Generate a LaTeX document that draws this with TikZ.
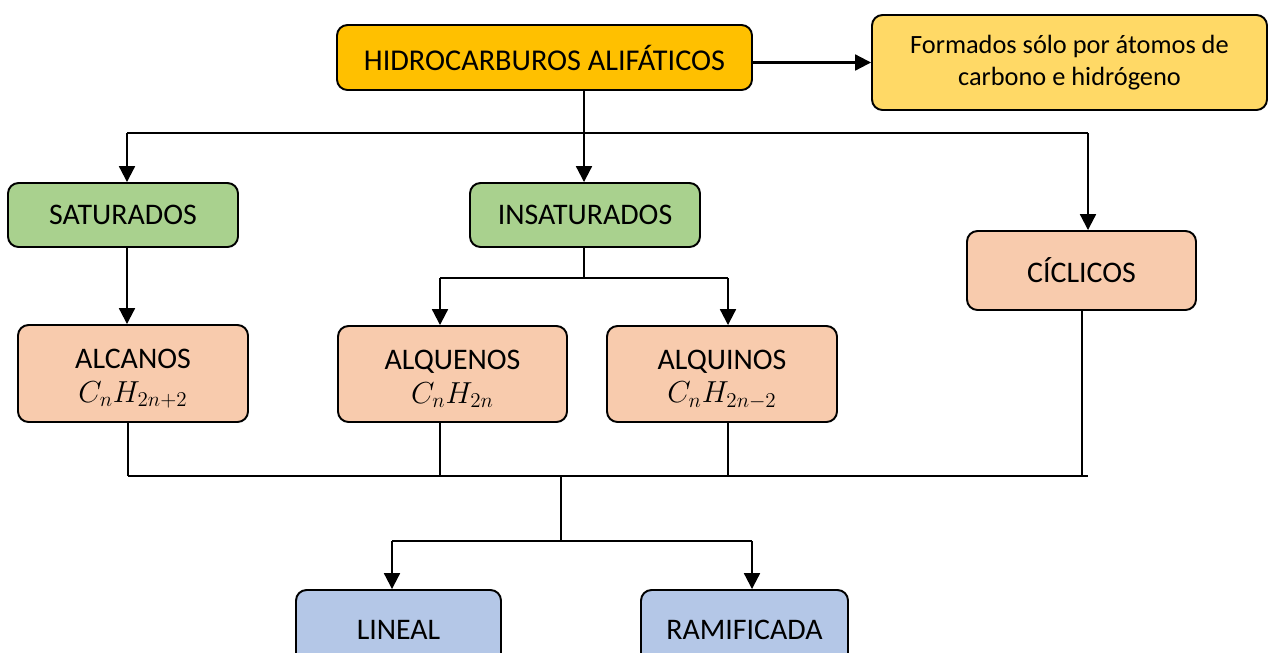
\documentclass[tikz,border=0pt]{standalone}
\usepackage{fontspec}
\setmainfont{Carlito}
\usetikzlibrary{arrows.meta, positioning}
\definecolor{Gold-1}{RGB}{255,192,0}
\definecolor{Gold-2}{RGB}{255,217,102}
\definecolor{Green-1}{RGB}{169,209,142}
\definecolor{Peach-1}{RGB}{248,203,173}
\definecolor{Blue-1}{RGB}{180,199,231}

\begin{document}
\begin{tikzpicture}
        \tikzset{ hb/.style ={draw=black, line width=1.1pt, rounded corners=6pt, inner sep=0pt, text=black, fill=Gold-1,  font=\fontsize{17.2}{20}\selectfont } }
        \tikzset{ db/.style ={draw=black, line width=1.1pt, rounded corners=6pt, inner sep=0pt, text=black, fill=Gold-2,  align=center, font=\fontsize{15}{18.5}\selectfont } }
        \tikzset{ gb/.style ={draw=black, line width=1.1pt, rounded corners=6pt, inner sep=0pt, text=black, fill=Green-1, font=\fontsize{17}{20}\selectfont } }
        \tikzset{ pb/.style ={draw=black, line width=1.1pt, rounded corners=6pt, inner sep=0pt, text=black, fill=Peach-1, align=center, font=\fontsize{17}{21}\selectfont } }
        \tikzset{ bb/.style ={draw=black, line width=1.1pt, rounded corners=6pt, inner sep=0pt, text=black, fill=Blue-1,  font=\fontsize{17}{20}\selectfont } }

        \tikzset{ lnk/.style ={line width=1.2pt, -{Stealth[length=9pt, width=9pt, inset=0pt]}} }
        \tikzset{ ln/.style ={line width=1.2pt} }

        \newcommand\ya{-2.66}
        \newcommand\yb{-5.56}
        \newcommand\yc{-9.52}
        \newcommand\yd{-10.82}

        \useasboundingbox (0,0) rectangle (25.4,-13.04);
        \clip (0,0) rectangle (25.4,-13.04);

        \node[hb, minimum width=8.3cm, minimum height=1.3cm] (hc) at (10.89, -1.15) {HIDROCARBUROS ALIFÁTICOS};
        \node[db, minimum width=7.9cm, minimum height=1.9cm] (def) at (21.39, -1.25) {Formados sólo por átomos de\\carbono e hidrógeno};

        \draw[lnk] (hc.east |- def.west) -- (def.west);

        \node[gb, minimum width=4.6cm, minimum height=1.28cm] (sat) at (2.46, -4.3) {SATURADOS};
        \node[gb, minimum width=4.6cm, minimum height=1.28cm] (insat) at (11.7, -4.3) {INSATURADOS};
        \node[pb, minimum width=4.58cm, minimum height=1.58cm] (cic) at (21.63, -5.41) {CÍCLICOS};

        \coordinate (j1) at (11.68, \ya);
        \coordinate (a1) at (2.54, \ya);
        \coordinate (a3) at (21.76, \ya);
        \draw[ln] (hc.south -| j1) -- (j1);
        \draw[ln] (a1) -- (a3);
        \draw[lnk] (a1) -- (a1 |- sat.north);
        \draw[lnk] (j1) -- (j1 |- insat.north);
        \draw[lnk] (a3) -- (a3 |- cic.north);

        \node[pb, minimum width=4.6cm, minimum height=1.94cm] (alca) at (2.66, -7.47) {\rule{0pt}{17pt}ALCANOS\\[-2pt]$C_nH_{2n+2}$};
        \node[pb, minimum width=4.58cm, minimum height=1.92cm] (alque) at (9.05, -7.48) {\rule{0pt}{17pt}ALQUENOS\\[-2pt]$C_nH_{2n}$};
        \node[pb, minimum width=4.6cm, minimum height=1.92cm] (alqui) at (14.44, -7.48) {\rule{0pt}{17pt}ALQUINOS\\[-2pt]$C_nH_{2n-2}$};

        \draw[lnk] (sat.south -| a1) -- (a1 |- alca.north);

        \coordinate (j2) at (11.68, \yb);
        \coordinate (b1) at (8.8, \yb);
        \coordinate (b2) at (14.56, \yb);
        \draw[ln] (insat.south -| j2) -- (j2);
        \draw[ln] (b1) -- (b2);
        \draw[lnk] (b1) -- (b1 |- alque.north);
        \draw[lnk] (b2) -- (b2 |- alqui.north);

        \coordinate (c1) at (2.56, \yc);
        \coordinate (c2) at (8.8, \yc);
        \coordinate (c3) at (14.56, \yc);
        \coordinate (c4) at (21.64, \yc);
        \coordinate (c5) at (21.76, \yc);
        \draw[ln] (alca.south -| c1) -- (c1);
        \draw[ln] (alque.south -| c2) -- (c2);
        \draw[ln] (alqui.south -| c3) -- (c3);
        \draw[ln] (cic.south -| c4) -- (c4);
        \draw[ln] (c1) -- (c5);

        \node[bb, minimum width=4.1cm, minimum height=1.6cm] (lin) at (7.97, -12.6) {LINEAL};
        \node[bb, minimum width=4.14cm, minimum height=1.6cm] (ram) at (14.89, -12.6) {RAMIFICADA};

        \coordinate (j3) at (11.22, \yc);
        \coordinate (d0) at (11.22, \yd);
        \coordinate (d1) at (7.84, \yd);
        \coordinate (d2) at (15.04, \yd);
        \draw[ln] (j3) -- (d0);
        \draw[ln] (d1) -- (d2);
        \draw[lnk] (d1) -- (d1 |- lin.north);
        \draw[lnk] (d2) -- (d2 |- ram.north);
      \end{tikzpicture}
\end{document}
